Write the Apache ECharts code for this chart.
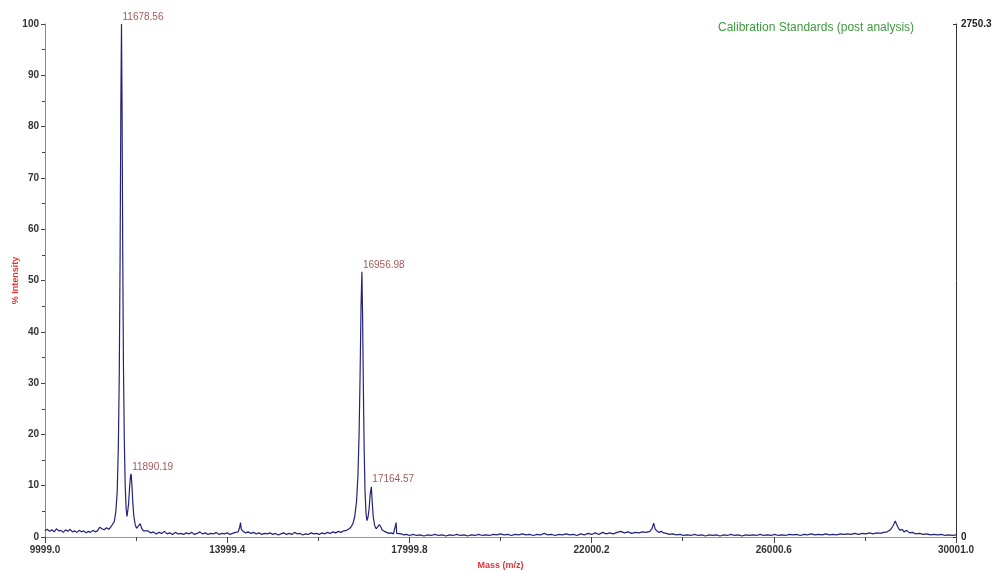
<!DOCTYPE html>
<html>
<head>
    <meta charset="utf-8">
    <title>Calibration Standards</title>
    <script src="https://cdn.jsdelivr.net/npm/echarts@6/dist/echarts.min.js"></script>
</head>
<body style="margin:0;background:#fff;">
<div id="main" style="width: 992px;height:571px;"></div>
<script type="text/javascript">
    // axis range (m/z)
    var massMin = 9999.0;
    var massMax = 30001.0;
    var massStep = 4000.4;
    var rightMax = 2750.3;

    // spectrum: [m/z, % intensity]
    var spectrum = [
        [9999, 1.2], [10050, 1.5], [10100, 1.1], [10150, 1.4], [10200, 1.0], [10250, 1.6],
        [10300, 1.2], [10350, 1.3], [10400, 0.9], [10450, 1.4], [10500, 1.1], [10550, 1.5],
        [10600, 1.0], [10650, 1.2], [10700, 0.9], [10750, 1.3], [10800, 1.0], [10850, 1.2],
        [10900, 0.8], [10950, 1.1], [11000, 0.9], [11050, 1.3], [11100, 1.0], [11150, 1.2],
        [11200, 1.9], [11250, 1.6], [11300, 1.4], [11350, 1.8], [11400, 1.5], [11440, 1.9],
        [11480, 2.0], [11520, 3.0], [11555, 5], [11585, 9], [11610, 18], [11630, 32],
        [11648, 55], [11665, 85], [11678.56, 100], [11692, 82], [11706, 55], [11722, 33],
        [11740, 19], [11760, 10], [11780, 5.5], [11800, 4.0], [11815, 4.3], [11835, 6.5],
        [11855, 9.5], [11875, 11.8], [11890.19, 12.3], [11905, 10.5], [11925, 7], [11950, 4],
        [11980, 2.4], [12010, 1.7], [12050, 1.9], [12090, 2.6], [12120, 1.7], [12160, 1.2],
        [12200, 0.9], [12260, 1.2], [12320, 0.8], [12380, 1.0], [12440, 0.6], [12500, 0.9],
        [12560, 0.7], [12620, 1.1], [12680, 0.6], [12740, 0.8], [12800, 0.5], [12860, 0.9],
        [12920, 0.6], [12980, 0.7], [13040, 0.5], [13100, 0.8], [13160, 0.6], [13220, 0.9],
        [13280, 0.5], [13340, 0.7], [13400, 1.0], [13460, 0.6], [13520, 0.8], [13580, 0.5],
        [13640, 0.7], [13700, 0.6], [13760, 0.9], [13820, 0.5], [13880, 0.7], [13940, 0.6],
        [14000, 0.8], [14060, 0.5], [14120, 0.7], [14180, 0.9], [14240, 1.0], [14270, 1.8],
        [14292, 2.8], [14310, 1.5], [14350, 1.1], [14400, 0.8], [14460, 1.0], [14520, 0.7],
        [14580, 0.9], [14640, 0.6], [14700, 0.8], [14760, 0.5], [14820, 0.7], [14880, 0.6],
        [14940, 0.8], [15000, 0.5], [15060, 0.7], [15120, 0.4], [15180, 0.6], [15240, 0.8],
        [15300, 0.5], [15360, 0.7], [15420, 0.5], [15480, 0.9], [15540, 0.6], [15600, 0.7],
        [15660, 0.4], [15720, 0.6], [15780, 0.5], [15840, 0.8], [15900, 0.6], [15960, 0.7],
        [16020, 0.5], [16080, 0.8], [16140, 0.6], [16200, 0.9], [16260, 0.7], [16320, 1.0],
        [16380, 0.8], [16440, 1.1], [16500, 0.9], [16560, 1.2], [16620, 1.3], [16680, 1.6],
        [16720, 2.0], [16760, 2.6], [16800, 4], [16840, 7], [16870, 12], [16895, 20],
        [16918, 32], [16938, 45], [16956.98, 51.7], [16972, 43], [16988, 30], [17005, 18],
        [17025, 9], [17048, 4.5], [17068, 3.2], [17090, 3.8], [17115, 5.5], [17140, 8.5],
        [17164.57, 9.8], [17182, 7], [17205, 4], [17235, 2.3], [17270, 1.6], [17300, 1.9],
        [17340, 2.4], [17370, 2.0], [17400, 1.4], [17450, 1.1], [17500, 0.9], [17550, 0.7],
        [17600, 0.8], [17650, 0.6], [17690, 0.7], [17708, 2.8], [17720, 0.7], [17760, 0.5],
        [17820, 0.6], [17880, 0.4], [17940, 0.5], [18000, 0.3], [18080, 0.5], [18160, 0.3],
        [18240, 0.4], [18320, 0.2], [18400, 0.4], [18480, 0.3], [18560, 0.5], [18640, 0.3],
        [18720, 0.4], [18800, 0.2], [18880, 0.4], [18960, 0.3], [19040, 0.5], [19120, 0.3],
        [19200, 0.4], [19280, 0.2], [19360, 0.4], [19440, 0.3], [19520, 0.5], [19600, 0.3],
        [19680, 0.4], [19760, 0.3], [19840, 0.5], [19920, 0.4], [20000, 0.6], [20080, 0.4],
        [20160, 0.5], [20240, 0.3], [20320, 0.5], [20400, 0.4], [20480, 0.6], [20560, 0.4],
        [20640, 0.5], [20720, 0.3], [20800, 0.5], [20880, 0.4], [20960, 0.7], [21040, 0.4],
        [21120, 0.5], [21200, 0.3], [21280, 0.5], [21360, 0.4], [21440, 0.6], [21520, 0.4],
        [21600, 0.5], [21680, 0.3], [21760, 0.6], [21840, 0.4], [21920, 0.7], [22000, 0.5],
        [22080, 0.8], [22160, 0.5], [22240, 0.9], [22320, 0.6], [22400, 0.8], [22480, 0.6],
        [22560, 0.9], [22640, 1.1], [22720, 0.8], [22800, 1.0], [22880, 0.7], [22960, 0.9],
        [23040, 0.8], [23120, 1.0], [23200, 0.9], [23280, 1.1], [23330, 1.7], [23363, 2.7],
        [23395, 1.6], [23430, 1.2], [23480, 0.9], [23530, 1.1], [23580, 0.8], [23640, 0.7],
        [23700, 0.5], [23780, 0.6], [23860, 0.4], [23940, 0.5], [24020, 0.3], [24100, 0.4],
        [24180, 0.3], [24260, 0.5], [24340, 0.3], [24420, 0.4], [24500, 0.2], [24580, 0.4],
        [24660, 0.3], [24740, 0.4], [24820, 0.2], [24900, 0.4], [24980, 0.3], [25060, 0.5],
        [25140, 0.3], [25220, 0.4], [25300, 0.2], [25380, 0.4], [25460, 0.3], [25540, 0.4],
        [25620, 0.3], [25700, 0.5], [25780, 0.3], [25860, 0.4], [25940, 0.3], [26020, 0.5],
        [26100, 0.3], [26180, 0.4], [26260, 0.3], [26340, 0.5], [26420, 0.4], [26500, 0.5],
        [26580, 0.3], [26660, 0.5], [26740, 0.4], [26820, 0.6], [26900, 0.4], [26980, 0.5],
        [27060, 0.4], [27140, 0.6], [27220, 0.4], [27300, 0.5], [27380, 0.4], [27460, 0.6],
        [27540, 0.5], [27620, 0.6], [27700, 0.5], [27780, 0.7], [27860, 0.5], [27940, 0.7],
        [28020, 0.6], [28100, 0.8], [28180, 0.6], [28260, 0.8], [28340, 0.7], [28420, 0.9],
        [28490, 1.0], [28560, 1.4], [28620, 2.2], [28667, 3.1], [28715, 2.1], [28765, 1.3],
        [28820, 1.5], [28860, 1.0], [28920, 1.3], [28980, 0.8], [29050, 0.9], [29120, 0.6],
        [29200, 0.7], [29280, 0.5], [29360, 0.6], [29440, 0.4], [29520, 0.5], [29600, 0.4],
        [29680, 0.5], [29760, 0.3], [29840, 0.4], [29920, 0.3], [30001, 0.4]
    ];

    // labelled peaks
    var peakMass = [11678.56, 11890.19, 16956.98, 17164.57];
    var peakIntensity = [100, 12.3, 51.7, 9.8];

    var yTicks = [0, 10, 20, 30, 40, 50, 60, 70, 80, 90, 100];

    // x is plotted as offset from massMin so the ticks land on 9999.0, 13999.4 ...
    var lineData = spectrum.map(function (p) { return [p[0] - massMin, p[1]]; });
    var peakData = peakMass.map(function (m, i) { return [m - massMin, peakIntensity[i]]; });

    var myChart = echarts.init(document.getElementById('main'));

    var option = {
        backgroundColor: '#fff',
        animation: false,
        title: {
            text: 'Calibration Standards (post analysis)',
            left: 713,
            top: 17,
            textStyle: {
                fontFamily: 'Liberation Sans',
                fontSize: 12,
                fontWeight: 'normal',
                color: '#3f9a3f'
            }
        },
        grid: {
            left: 45,
            right: 36,
            top: 24,
            bottom: 34,
            outerBoundsMode: 'none'
        },
        xAxis: {
            type: 'value',
            min: 0,
            max: massMax - massMin,
            interval: massStep,
            name: 'Mass (m/z)',
            nameLocation: 'middle',
            nameGap: 24,
            nameTextStyle: {
                color: '#e03535',
                fontFamily: 'Liberation Sans',
                fontSize: 9,
                fontWeight: 'bold'
            },
            axisLine: { lineStyle: { color: '#999', width: 1 } },
            axisTick: { show: true, length: 6, lineStyle: { color: '#444' } },
            minorTick: { show: true, splitNumber: 2, length: 4, lineStyle: { color: '#444' } },
            splitLine: { show: false },
            axisLabel: {
                color: '#333',
                fontFamily: 'Liberation Sans',
                fontSize: 10,
                fontWeight: 'bold',
                margin: 8,
                formatter: function (v) { return (v + massMin).toFixed(1); }
            }
        },
        yAxis: [
            {
                type: 'value',
                min: yTicks[0],
                max: yTicks[yTicks.length - 1],
                interval: 10,
                name: '% Intensity',
                nameLocation: 'middle',
                nameGap: 25,
                nameMoveOverlap: false,
                nameTextStyle: {
                    color: '#e03535',
                    fontFamily: 'Liberation Sans',
                    fontSize: 9,
                    fontWeight: 'bold'
                },
                axisLine: { show: true, lineStyle: { color: '#888', width: 1 } },
                axisTick: { show: true, length: 4, lineStyle: { color: '#444' } },
                minorTick: { show: true, splitNumber: 2, length: 3, lineStyle: { color: '#444' } },
                splitLine: { show: false },
                axisLabel: {
                    color: '#333',
                    fontFamily: 'Liberation Sans',
                    fontSize: 10,
                    fontWeight: 'bold',
                    margin: 6
                }
            },
            {
                type: 'value',
                position: 'right',
                min: 0,
                max: rightMax,
                interval: rightMax,
                axisLine: { show: true, lineStyle: { color: '#333', width: 1 } },
                axisTick: { show: true, inside: true, length: 3, lineStyle: { color: '#333' } },
                splitLine: { show: false },
                axisLabel: {
                    color: '#222',
                    fontFamily: 'Liberation Sans',
                    fontSize: 10,
                    fontWeight: 'bold',
                    margin: 5,
                    formatter: function (v) { return v === 0 ? '0' : v.toFixed(1); }
                }
            }
        ],
        series: [
            {
                name: 'spectrum',
                type: 'line',
                data: lineData,
                showSymbol: false,
                symbol: 'none',
                smooth: false,
                lineStyle: { color: '#23237e', width: 1.2 },
                z: 3
            },
            {
                name: 'peaks',
                type: 'scatter',
                data: peakData,
                symbolSize: 0,
                label: {
                    show: true,
                    position: 'top',
                    align: 'left',
                    distance: 2,
                    offset: [1, 0],
                    color: '#8a2e2e',
                    fontFamily: 'Liberation Sans',
                    fontSize: 10,
                    formatter: function (p) { return (p.value[0] + massMin).toFixed(2); }
                },
                z: 4
            }
        ]
    };

    myChart.setOption(option);
</script>
</body>
</html>
